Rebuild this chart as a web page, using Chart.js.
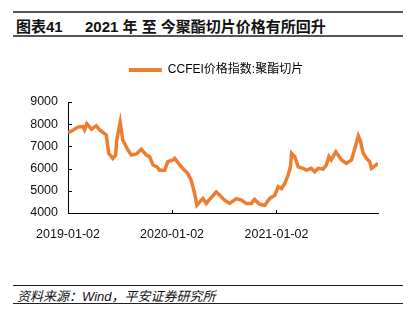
<!DOCTYPE html>
<html>
<head>
<meta charset="utf-8">
<script src="https://cdn.jsdelivr.net/npm/chart.js@4.4.1/dist/chart.umd.min.js"></script>
<style>
  body { margin: 0; background: #fff; width: 412px; height: 329px; overflow: hidden; position: relative;
         font-family: "Liberation Sans", "Noto Sans CJK SC", sans-serif; }
  .title { position: absolute; left: 13px; top: 11px; width: 390px; height: 22px;
           border-top: 2px solid #555; border-bottom: 2px solid #555; }
  .title span { position: absolute; top: 2px; font-size: 15px; font-weight: bold; color: #111; white-space: pre; }
  .foot { position: absolute; left: 13px; top: 285px; width: 390px; height: 17px;
          border-top: 1px solid #222; border-bottom: 1px solid #222; }
  .foot span { position: absolute; left: 4px; top: 0px; font-size: 13px; font-style: italic; color: #111; white-space: pre; }
  #wrap { position: absolute; left: 0; top: 50px; width: 412px; height: 200px; }
</style>
</head>
<body>
<div class="title"><span style="left:3px">图表41</span><span style="left:72px">2021 年 至 今聚酯切片价格有所回升</span></div>
<div id="wrap"><canvas id="c"></canvas></div>
<div class="foot"><span>资料来源：Wind，平安证券研究所</span></div>
<script>
// --- Data ---
const seriesName = 'CCFEI价格指数:聚酯切片';
const dates = [
  '2019-01-02','2019-01-18','2019-02-06','2019-02-23','2019-03-01','2019-03-09','2019-03-25','2019-04-11','2019-04-23','2019-05-16',
  '2019-05-25','2019-06-08','2019-06-18','2019-06-22','2019-07-04','2019-07-13','2019-07-31','2019-08-12','2019-08-30','2019-09-16',
  '2019-10-04','2019-10-15','2019-10-27','2019-11-10','2019-11-19','2019-12-07','2019-12-18','2020-01-05','2020-01-11','2020-02-03',
  '2020-02-26','2020-03-09','2020-03-21','2020-03-29','2020-04-08','2020-04-19','2020-05-01','2020-05-10','2020-05-20','2020-06-05',
  '2020-06-17','2020-07-04','2020-07-22','2020-08-14','2020-09-01','2020-09-18','2020-10-06','2020-10-17','2020-11-04','2020-11-22',
  '2020-12-09','2020-12-27','2021-01-08','2021-01-20','2021-01-31','2021-02-12','2021-02-20','2021-02-24','2021-03-07','2021-03-19',
  '2021-04-05','2021-04-17','2021-05-04','2021-05-16','2021-05-28','2021-06-14','2021-06-26','2021-07-05','2021-07-13','2021-07-29',
  '2021-08-06','2021-08-18','2021-09-04','2021-09-22','2021-10-04','2021-10-16','2021-10-24','2021-11-02','2021-11-14','2021-11-25',
  '2021-12-01','2021-12-13','2021-12-24'
];
const values = [
  7620,7715,7870,7895,7745,8020,7780,7925,7745,7520,
  6690,6460,6610,7290,8080,7290,6840,6610,6660,6870,
  6610,6540,6160,6080,5930,5930,6310,6390,6460,6080,
  5780,5480,4880,4350,4500,4650,4430,4580,4720,4950,
  4800,4580,4430,4650,4580,4430,4430,4610,4390,4350,
  4650,4800,5180,5100,5330,5710,6080,6690,6540,6080,
  6010,5930,6010,5860,6010,5980,6160,6540,6390,6760,
  6610,6390,6240,6390,6920,7470,7220,6690,6460,6310,
  6010,6120,6240
];
const tickDates = ['2019-01-02', '2020-01-02', '2021-01-02'];
const yMin = 4000, yMax = 9000, yStep = 1000;

const DAY = 86400000;
const t0 = Date.parse(dates[0]);
const dayOf = d => (Date.parse(d) - t0) / DAY;
const orange = '#ED7D31';
const font = '"Liberation Sans", "Noto Sans CJK SC", sans-serif';

// short tick marks pointing into the plot, like the source
const innerTicks = {
  id: 'innerTicks',
  afterDraw(chart) {
    const { ctx, scales: { x, y } } = chart;
    ctx.save();
    ctx.strokeStyle = '#000';
    ctx.lineWidth = 1;
    ctx.beginPath();
    y.ticks.forEach(t => {
      const py = Math.round(y.getPixelForValue(t.value)) + 0.5;
      ctx.moveTo(x.left, py); ctx.lineTo(x.left + 4, py);
    });
    x.ticks.forEach(t => {
      const px = Math.round(x.getPixelForValue(t.value)) + 0.5;
      ctx.moveTo(px, y.bottom); ctx.lineTo(px, y.bottom - 3);
    });
    ctx.stroke();
    ctx.restore();
  }
};

// invisible spacer axes (keep legend centred where the source has it)
const spacer = (pos, size) => ({
  type: 'linear', position: pos, min: 0, max: 1, display: true,
  grid: { display: false, drawTicks: false }, border: { display: false }, ticks: { display: false },
  afterFit: s => {
    if (pos === 'top') s.height = Math.max(0, 52 - (s.chart.legend ? s.chart.legend.height : 0));
    else s.width = size;
  }
});

new Chart(document.getElementById('c'), {
  type: 'line',
  data: {
    datasets: [{
      label: seriesName,
      data: dates.map((d, i) => ({ x: dayOf(d), y: values[i] })),
      borderColor: orange, backgroundColor: orange,
      borderWidth: 3.5, pointRadius: 0, tension: 0
    }]
  },
  options: {
    responsive: true, maintainAspectRatio: false, animation: false,
    layout: { padding: { left: 29, right: 9, top: 0, bottom: 0 } },
    plugins: {
      tooltip: { enabled: false },
      legend: {
        position: 'top',
        labels: {
          color: '#222', font: { size: 12, family: font },
          boxWidth: 33, boxHeight: 4, padding: 14,
          generateLabels: () => [{ text: seriesName, fillStyle: orange, strokeStyle: orange, lineWidth: 0, datasetIndex: 0 }]
        }
      }
    },
    scales: {
      x: {
        type: 'linear', min: 0, max: dayOf(dates[dates.length - 1]),
        afterBuildTicks: s => { s.ticks = tickDates.map(d => ({ value: dayOf(d) })); },
        afterFit: s => { s.height = 37; },
        grid: { display: false, drawTicks: false },
        border: { color: '#000', width: 1 },
        ticks: {
          autoSkip: false, maxRotation: 0, padding: 14, color: '#111',
          font: { size: 12.5, family: font },
          callback: (v) => { const i = tickDates.findIndex(d => dayOf(d) === v); return i >= 0 ? tickDates[i] : ''; }
        }
      },
      y: {
        min: yMin, max: yMax,
        afterFit: s => { s.width = 39; },
        grid: { display: false, drawTicks: false },
        border: { color: '#000', width: 1 },
        ticks: {
          stepSize: yStep, padding: 10, color: '#111',
          font: { size: 12.5, family: font },
          callback: v => String(v)
        }
      },
      xTop: spacer('top'),
      yRight: spacer('right', 25)
    }
  },
  plugins: [innerTicks]
});
</script>
</body>
</html>
